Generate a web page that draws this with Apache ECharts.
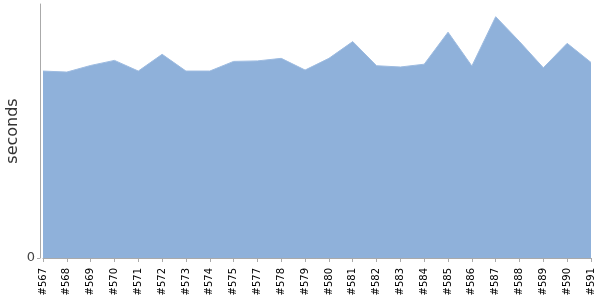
<!DOCTYPE html>
<html><head><meta charset="utf-8">
<script src="https://cdn.jsdelivr.net/npm/echarts@6/dist/echarts.min.js"></script>
<style>html,body{margin:0;padding:0;background:#fff}#c{width:600px;height:300px}</style>
</head><body><div id="c"></div>
<script>
const builds = ['#567','#568','#569','#570','#571','#572','#573','#574','#575','#577','#578','#579','#580','#581','#582','#583','#584','#585','#586','#587','#588','#589','#590','#591'];
const seconds = [73.6,73.2,75.8,77.8,73.6,80.2,73.6,73.6,77.4,77.6,78.6,74.0,78.6,85.2,75.7,75.2,76.3,88.9,75.6,95.0,85.2,74.9,84.5,77.0];
const yTicks = [0];

const chart = echarts.init(document.getElementById('c'), null, {renderer:'canvas'});
chart.setOption({
  animation:false,
  grid:{left:43, right:9, top:4, bottom:42, containLabel:false, outerBoundsMode:'none'},
  xAxis:{
    type:'category', data:builds, boundaryGap:false, offset:5,
    axisLine:{lineStyle:{color:'#aaa', width:1}},
    axisTick:{show:true, length:4, lineStyle:{color:'#aaa'}},
    axisLabel:{rotate:90, interval:0, color:'#000', fontSize:10, fontFamily:'DejaVu Sans', margin:5},
    splitLine:{show:false}
  },
  yAxis:{
    type:'value', min:0, max:100, interval:100, offset:3,
    name:'seconds', nameLocation:'middle', nameGap:19, nameMoveOverlap:false,
    nameTextStyle:{color:'#333', fontSize:16, fontFamily:'DejaVu Sans'},
    axisLine:{show:true, lineStyle:{color:'#aaa'}},
    axisTick:{show:true, length:3, customValues:yTicks, lineStyle:{color:'#aaa'}},
    axisLabel:{customValues:yTicks, color:'#444', fontSize:13, fontFamily:'DejaVu Sans', margin:5},
    splitLine:{show:false}
  },
  series:[{
    type:'line', data:seconds, symbol:'none', smooth:false,
    lineStyle:{width:1, color:'#9dbbe0'},
    areaStyle:{color:'#8fb1da', opacity:1}
  }]
});
</script></body></html>
